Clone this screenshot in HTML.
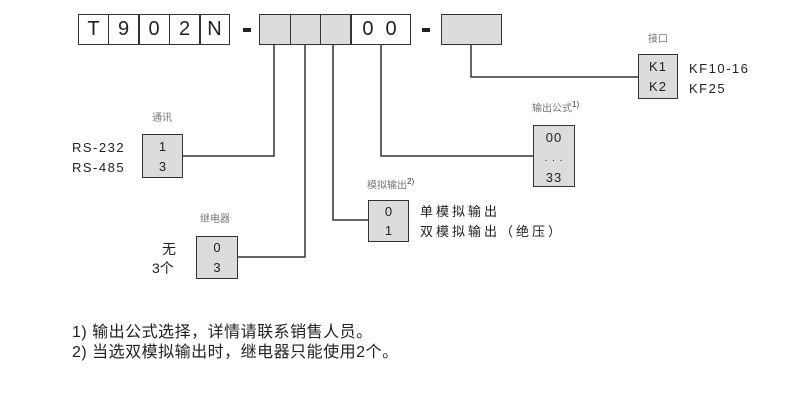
<!DOCTYPE html>
<html><head><meta charset="utf-8"><style>
body{margin:0;width:804px;height:403px;background:#fff;position:relative;overflow:hidden;font-family:"Liberation Sans","Noto Sans CJK SC",sans-serif;color:#222}
.a{position:absolute;white-space:nowrap;line-height:1}
.c{position:absolute;box-sizing:border-box;border:1.5px solid #333;display:flex;align-items:center;justify-content:center;font-size:20px}
.g{background:#dcdcdc}
.sm{font-size:10px;color:#777}
.m{font-size:13px;letter-spacing:1.5px}
.box{position:absolute;box-sizing:border-box;border:1.5px solid #333;background:#dcdcdc;font-size:13px;text-align:center}
</style></head><body>
<svg width="804" height="403" style="position:absolute;left:0;top:0">
<g stroke="#333" stroke-width="1.5" fill="none">
<polyline points="274,45 274,156 183,156"/>
<polyline points="305,45 305,257 238,257"/>
<polyline points="333,45 333,220 368,220"/>
<polyline points="381,45 381,156 533,156"/>
<polyline points="471,45 471,77 638,77"/>
</g>
<rect x="243" y="28" width="8" height="4" fill="#222"/>
<rect x="422" y="28" width="8" height="4" fill="#222"/>
</svg>
<div class="c" style="left:78px;top:14px;width:31px;height:31px">T</div>
<div class="c" style="left:107.5px;top:14px;width:32px;height:31px">9</div>
<div class="c" style="left:138px;top:14px;width:32px;height:31px">0</div>
<div class="c" style="left:168.5px;top:14px;width:32px;height:31px">2</div>
<div class="c" style="left:199px;top:14px;width:31px;height:31px">N</div>
<div class="c g" style="left:259px;top:14px;width:32px;height:31px"></div>
<div class="c g" style="left:289.5px;top:14px;width:32px;height:31px"></div>
<div class="c g" style="left:320px;top:14px;width:31.5px;height:31px"></div>
<div class="c" style="left:350px;top:14px;width:61px;height:31px;letter-spacing:12px;padding-left:10px">00</div>
<div class="c g" style="left:441px;top:14px;width:61px;height:31px"></div>

<div class="a sm" style="left:152px;top:114px">通讯</div>
<div class="a m" style="left:72px;top:141px">RS-232</div>
<div class="a m" style="left:72px;top:161px">RS-485</div>
<div class="box" style="left:142px;top:134px;width:41px;height:44px;line-height:20px;padding-top:2px">1<br>3</div>

<div class="a sm" style="left:200px;top:215px">继电器</div>
<div class="a" style="left:162px;top:242px;font-size:14px">无</div>
<div class="a" style="left:152px;top:261px;font-size:14px">3个</div>
<div class="box" style="left:196px;top:236px;width:42px;height:43px;line-height:20px;padding-top:1px">0<br>3</div>

<div class="a sm" style="left:367px;top:178px">模拟输出<sup style="font-size:8px;color:#333">2)</sup></div>
<div class="box" style="left:368px;top:200px;width:41px;height:42px;line-height:19px;padding-top:1px">0<br>1</div>
<div class="a m" style="left:420px;top:205px;letter-spacing:3px">单模拟输出</div>
<div class="a m" style="left:420px;top:225px;letter-spacing:3px">双模拟输出（绝压）</div>

<div class="a sm" style="left:532px;top:101px">输出公式<sup style="font-size:8px;color:#333">1)</sup></div>
<div class="box" style="left:533px;top:125px;width:42px;height:62px;line-height:19px;padding-top:2px;letter-spacing:1px">00<br><span style="font-size:10px">. . .</span><br>33</div>

<div class="a sm" style="left:648px;top:35px">接口</div>
<div class="box" style="left:638px;top:54px;width:40px;height:45px;line-height:20px;padding-top:2px;letter-spacing:1px">K1<br>K2</div>
<div class="a m" style="left:689px;top:62px">KF10-16</div>
<div class="a m" style="left:689px;top:82px">KF25</div>

<div class="a" style="left:72px;top:325px;font-size:16px;letter-spacing:0.5px">1) 输出公式选择，详情请联系销售人员。</div>
<div class="a" style="left:72px;top:345px;font-size:16px;letter-spacing:0.5px">2) 当选双模拟输出时，继电器只能使用2个。</div>
</body></html>
